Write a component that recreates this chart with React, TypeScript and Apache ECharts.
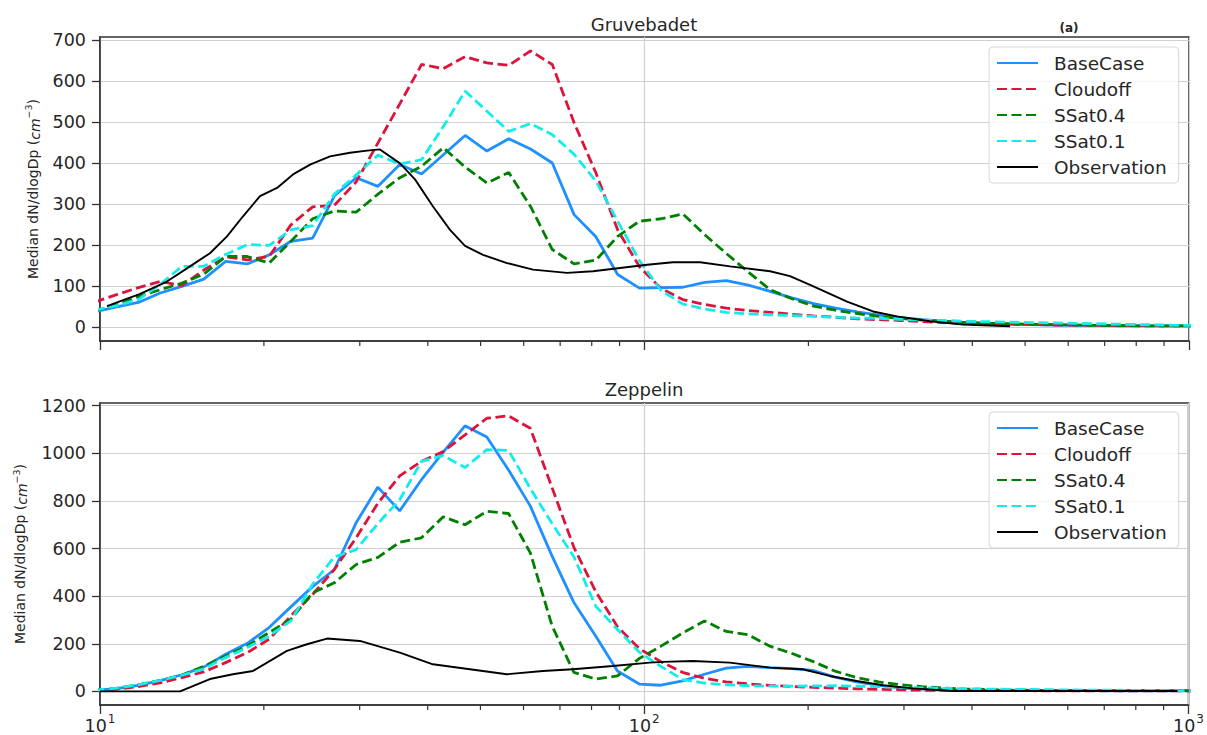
import React, { useEffect, useRef } from "react";
import * as echarts from "echarts";

// Particle diameter (nm) of the model size bins
const modelDiameters = [9.78, 10.73, 11.76, 12.9, 14.14, 15.51, 17.01, 18.65, 20.45, 22.42, 24.58, 26.95, 29.55, 32.4, 35.53, 38.96, 42.72, 46.84, 51.36, 56.32, 61.75, 67.71, 74.25, 81.41, 89.27, 97.88, 107.3, 117.6, 129.0, 141.4, 155.1, 170.1, 186.5, 204.5, 224.2, 245.8, 269.5, 295.5, 324.0, 355.3, 389.6, 427.2, 468.4, 513.6, 563.2, 617.5, 677.1, 742.5, 814.1, 892.7, 978.8, 1073];

// Gruvebadet (a, top)
const gruvBaseCase = [38, 50, 61, 84, 100, 118, 161, 155, 177, 210, 218, 321, 365, 344, 397, 374, 421, 468, 430, 460, 435, 401, 275, 221, 129, 96, 97, 98, 110, 114, 103, 88, 72, 58, 47, 38, 30, 24, 19, 15, 12, 10, 8, 7, 6, 5, 5, 4, 4, 4, 4, 4];
const gruvCloudoff = [62, 80, 97, 112, 102, 140, 172, 165, 173, 250, 294, 298, 355, 450, 545, 641, 631, 660, 645, 639, 674, 641, 499, 377, 238, 148, 95, 68, 56, 47, 41, 37, 32, 28, 25, 21, 19, 17, 14, 12, 10, 9, 8, 7, 6, 6, 5, 5, 5, 4, 4, 4];
const gruvSSat04 = [40, 55, 75, 92, 108, 130, 173, 173, 157, 210, 265, 284, 281, 325, 365, 393, 438, 391, 352, 378, 295, 190, 155, 164, 222, 259, 265, 277, 226, 180, 135, 92, 70, 52, 42, 34, 27, 22, 18, 15, 12, 10, 9, 8, 7, 6, 5, 5, 4, 4, 4, 4];
const gruvSSat01 = [42, 53, 68, 105, 149, 149, 178, 202, 200, 238, 248, 325, 372, 420, 398, 409, 490, 576, 527, 478, 497, 470, 422, 357, 259, 163, 90, 57, 45, 37, 33, 31, 29, 27, 25, 23, 22, 20, 18, 17, 15, 14, 13, 12, 11, 10, 9, 8, 7, 6, 5, 5];
const gruvObsDiameters = [10.3, 11.85, 13.27, 14.63, 15.92, 17.11, 18.31, 19.67, 21.14, 22.62, 24.31, 26.45, 28.78, 30.93, 32.67, 35.56, 37.89, 40.89, 43.94, 46.81, 50.51, 55.91, 62.4, 72.07, 80.42, 90.16, 101.1, 112.8, 126.5, 143.6, 170.1, 185.0, 201.4, 219.1, 235.5, 262.8, 290.9, 334.5, 384.6, 469.1];
const gruvObservation = [52, 82, 112, 149, 181, 222, 271, 320, 340, 373, 397, 417, 426, 431, 434, 400, 361, 295, 238, 199, 177, 157, 141, 133, 137, 145, 153, 159, 159, 149, 137, 125, 104, 82, 63, 39, 27, 15, 7, 3];

// Zeppelin (bottom)
const zepBaseCase = [4, 12, 25, 45, 70, 102, 156, 202, 268, 355, 440, 512, 708, 858, 758, 889, 1005, 1115, 1068, 930, 778, 568, 373, 233, 86, 31, 26, 44, 72, 98, 105, 100, 96, 88, 60, 40, 25, 15, 10, 7, 5, 4, 3, 3, 3, 3, 3, 2, 2, 2, 2, 2];
const zepCloudoff = [4, 10, 20, 36, 58, 82, 121, 163, 219, 317, 407, 512, 645, 790, 905, 966, 1007, 1077, 1147, 1157, 1105, 855, 605, 420, 272, 180, 125, 80, 55, 40, 32, 25, 21, 17, 14, 11, 9, 7, 5, 4, 4, 3, 3, 3, 2, 2, 2, 2, 2, 2, 2, 2];
const zepSSat04 = [4, 13, 28, 46, 68, 105, 149, 191, 247, 303, 414, 456, 533, 563, 626, 645, 733, 700, 756, 747, 582, 275, 80, 52, 65, 138, 190, 245, 296, 252, 238, 190, 160, 125, 85, 58, 40, 28, 20, 14, 10, 8, 6, 5, 4, 4, 3, 3, 3, 3, 3, 3];
const zepSSat01 = [5, 14, 28, 46, 68, 95, 142, 184, 233, 296, 450, 565, 595, 705, 805, 966, 990, 940, 1015, 1012, 852, 705, 565, 358, 260, 165, 105, 50, 35, 28, 24, 22, 22, 23, 24, 22, 20, 17, 15, 13, 11, 10, 9, 8, 7, 6, 5, 5, 4, 4, 3, 3];
const zepObsDiameters = [10.0, 14.03, 15.92, 17.55, 19.1, 22.05, 24.0, 26.12, 30.03, 35.56, 40.89, 55.91, 65.1, 73.92, 87.53, 102.3, 108.1, 122.8, 143.6, 170.1, 195.5, 219.1, 245.6, 274.2, 311.2, 368.6, 954.5];
const zepObservation = [0, 0, 52, 72, 86, 170, 198, 222, 212, 163, 114, 72, 86, 93, 107, 121, 124, 128, 121, 100, 93, 65, 44, 26, 13, 2, 2];

const seriesNames = ["BaseCase", "Cloudoff", "SSat0.4", "SSat0.1", "Observation"];
const gruvYTicks = [0, 100, 200, 300, 400, 500, 600, 700];
const zepYTicks = [0, 200, 400, 600, 800, 1000, 1200];
const minorXTicks = [20, 30, 40, 50, 60, 70, 80, 90, 200, 300, 400, 500, 600, 700, 800, 900];

const FONT = "DejaVu Sans";
const TXT = "#262626";
const AX = "#333333";
const GRIDC = "#d0d0d0";

const styles: Record<string, any> = {
  BaseCase: { color: "#1e90ff", width: 2.8, type: "solid" },
  Cloudoff: { color: "#dc143c", width: 2.8, type: [10, 4.5] },
  "SSat0.4": { color: "#008000", width: 2.8, type: [10, 4.5] },
  "SSat0.1": { color: "#14ecec", width: 2.8, type: [10, 4.5] },
  Observation: { color: "#000000", width: 1.9, type: "solid" },
};

const pairs = (xs: number[], ys: number[]) => xs.map((x, i) => [x, ys[i]]);

export default function App() {
  const ref = useRef<HTMLDivElement>(null);
  useEffect(() => {
    document.body.style.margin = "0";
    const chart = echarts.init(ref.current!, null, { renderer: "svg" });

    const panels = [
      {
        top: 37, height: 304, yMin: -33, yMax: 708, ticks: gruvYTicks, nameGap: 58, showX: false,
        data: [gruvBaseCase, gruvCloudoff, gruvSSat04, gruvSSat01],
        obsD: gruvObsDiameters, obs: gruvObservation,
      },
      {
        top: 403, height: 303, yMin: -57, yMax: 1211, ticks: zepYTicks, nameGap: 71, showX: true,
        data: [zepBaseCase, zepCloudoff, zepSSat04, zepSSat01],
        obsD: zepObsDiameters, obs: zepObservation,
      },
    ];

    const grid: any[] = [];
    const xAxis: any[] = [];
    const yAxis: any[] = [];
    const series: any[] = [];

    panels.forEach((p, k) => {
      grid.push({
        left: 100, width: 1089, top: p.top, height: p.height,
        show: true, borderColor: AX, borderWidth: 1.6, backgroundColor: "transparent",
      });
      xAxis.push({
        type: "log", logBase: 10, min: 10, max: 1000, gridIndex: k,
        axisLine: { show: true, onZero: false, lineStyle: { color: AX, width: 1.6 } },
        axisTick: { show: true, length: 9, lineStyle: { color: AX, width: 1.3 } },
        splitLine: { show: true, lineStyle: { color: GRIDC, width: 1.2 } },
        minorTick: { show: false },
        axisLabel: {
          show: p.showX, margin: 8,
          formatter: (v: number) => `{b|10}{s|${Math.round(Math.log10(v))}}`,
          rich: {
            b: { fontFamily: FONT, fontSize: 17.5, color: TXT, lineHeight: 22, verticalAlign: "bottom" },
            s: { fontFamily: FONT, fontSize: 12, color: TXT, lineHeight: 22, verticalAlign: "top", padding: [0, 0, 0, 1] },
          },
        },
      });
      yAxis.push({
        type: "value", min: p.yMin, max: p.yMax, gridIndex: k,
        splitNumber: k === 0 ? 7 : 6,
        axisLine: { show: true, onZero: false, lineStyle: { color: AX, width: 1.6 } },
        axisTick: { show: true, length: 8, customValues: p.ticks, lineStyle: { color: AX, width: 1.3 } },
        splitLine: { show: true, lineStyle: { color: GRIDC, width: 1.2 } },
        axisLabel: {
          customValues: p.ticks,
          formatter: (v: number) => String(v),
          fontFamily: FONT, fontSize: 17.5, color: TXT, margin: 14,
        },
        name: "Median dN/dlogDp ({i|cm}{s|−3})",
        nameLocation: "middle", nameGap: p.nameGap,
        nameTextStyle: {
          fontFamily: FONT, fontSize: 14, color: TXT,
          rich: {
            i: { fontFamily: FONT, fontSize: 14, fontStyle: "italic", color: TXT, lineHeight: 18, verticalAlign: "bottom" },
            s: { fontFamily: FONT, fontSize: 9.5, color: TXT, lineHeight: 18, verticalAlign: "top" },
          },
        },
      });
      seriesNames.slice(0, 4).forEach((n, i) => {
        const st = styles[n];
        series.push({
          name: n, type: "line", xAxisIndex: k, yAxisIndex: k,
          data: pairs(modelDiameters, p.data[i]),
          symbol: "none", clip: true, z: 3 + i,
          lineStyle: { color: st.color, width: st.width, type: st.type, cap: "butt" },
          itemStyle: { color: st.color, opacity: 0 },
        });
      });
      const ost = styles.Observation;
      series.push({
        name: "Observation", type: "line", xAxisIndex: k, yAxisIndex: k,
        data: pairs(p.obsD, p.obs), symbol: "none", clip: true, z: 8,
        lineStyle: { color: ost.color, width: ost.width, type: "solid" },
        itemStyle: { color: ost.color, opacity: 0 },
      });
      series.push({
        type: "custom", xAxisIndex: k, yAxisIndex: k, silent: true, clip: false, z: 9,
        data: minorXTicks.map((v) => [v, p.yMin]),
        renderItem: (_params: any, api: any) => {
          const c = api.coord([api.value(0), api.value(1)]);
          return {
            type: "line",
            shape: { x1: c[0], y1: c[1], x2: c[0], y2: c[1] + 5 },
            style: { stroke: AX, lineWidth: 1.2 },
          };
        },
      });
    });

    const legendBase = (top: number) => ({
      data: seriesNames, orient: "vertical", left: 989, top,
      itemWidth: 41, itemHeight: 14, itemGap: 6,
      padding: [6, 12, 6, 7],
      backgroundColor: "rgba(255,255,255,0.8)",
      borderColor: "#d6d6d6", borderWidth: 1, borderRadius: 4,
      itemStyle: { opacity: 0 },
      textStyle: { fontFamily: FONT, fontSize: 18.5, color: TXT, lineHeight: 20, padding: [0, 0, 0, 11] },
      selectedMode: false,
    });

    chart.setOption({
      animation: false,
      backgroundColor: "#ffffff",
      title: [
        { text: "Gruvebadet", left: 644, top: 15, textAlign: "center", padding: 0,
          textStyle: { fontFamily: FONT, fontSize: 18, fontWeight: "normal", color: TXT } },
        { text: "(a)", left: 1069, top: 22, textAlign: "center", padding: 0,
          textStyle: { fontFamily: FONT, fontSize: 12, fontWeight: "bold", color: TXT } },
        { text: "Zeppelin", left: 644, top: 380, textAlign: "center", padding: 0,
          textStyle: { fontFamily: FONT, fontSize: 18, fontWeight: "normal", color: TXT } },
      ],
      legend: [legendBase(47), legendBase(412)],
      grid, xAxis, yAxis, series,
    });
    return () => chart.dispose();
  }, []);
  return <div ref={ref} style={{ position: "absolute", left: 0, top: 0, width: 1207, height: 735 }} />;
}
